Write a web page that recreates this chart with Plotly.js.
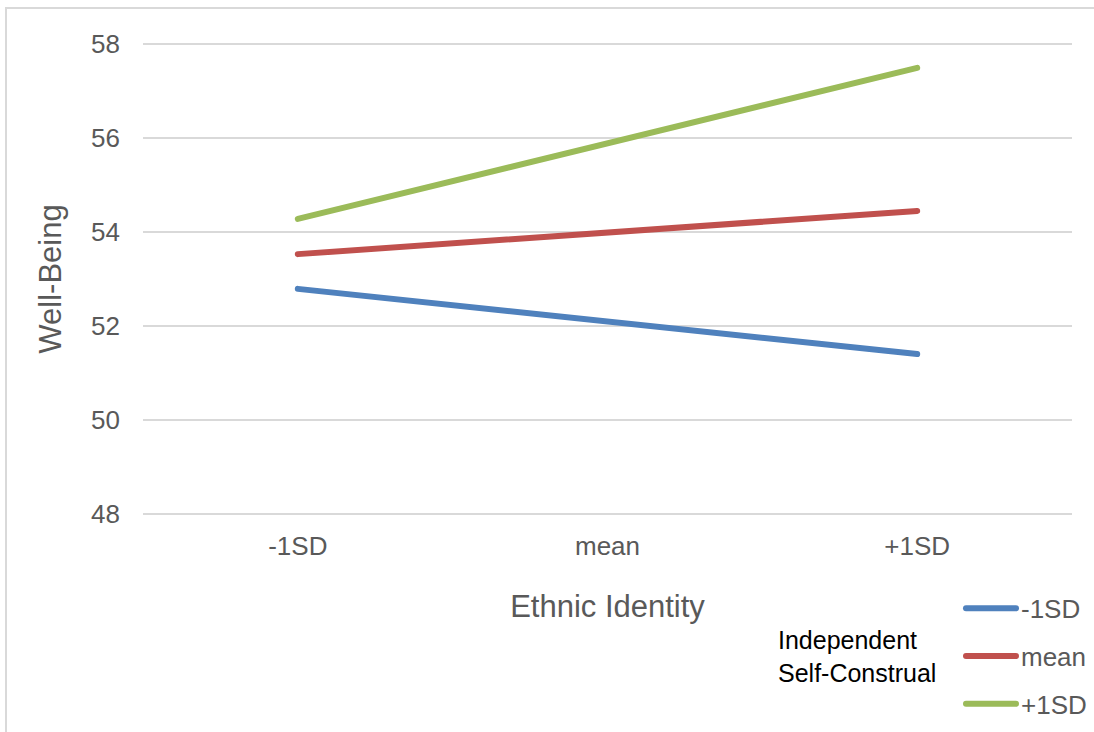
<!DOCTYPE html>
<html>
<head>
<meta charset="utf-8">
<script src="https://cdn.plot.ly/plotly-3.0.1.min.js"></script>
<style>
  html, body { margin: 0; padding: 0; background: #ffffff; }
  #wrap { position: relative; width: 1094px; height: 732px; overflow: hidden; }
  #frame { position: absolute; left: 5px; top: 7px; width: 1200px; height: 800px; border: 2px solid #d9d9d9; box-sizing: border-box; pointer-events: none; }
  #chart { position: absolute; left: 0; top: 0; width: 1094px; height: 732px; }
  .scatterlayer path.js-line, .legend path.js-line { stroke-linecap: round; stroke-linejoin: round; }
</style>
</head>
<body>
<div id="wrap">
  <div id="chart"></div>
  <div id="frame"></div>
</div>
<script>
const categories = ['-1SD', 'mean', '+1SD'];
const seriesNames = ['-1SD', 'mean', '+1SD'];
const lowSelfConstrual = [52.79, 52.10, 51.40];
const meanSelfConstrual = [53.53, 53.99, 54.45];
const highSelfConstrual = [54.28, 55.89, 57.50];
const seriesColors = ['#4F81BD', '#C0504D', '#9BBB59'];
const yTicks = [48, 50, 52, 54, 56, 58];

const seriesValues = [lowSelfConstrual, meanSelfConstrual, highSelfConstrual];
const font = 'Liberation Sans, Arial, sans-serif';

const traces = seriesValues.map((vals, i) => ({
  type: 'scatter',
  mode: 'lines',
  x: categories,
  y: vals,
  name: seriesNames[i],
  legendgroup: 'g' + i,
  line: { color: seriesColors[i], width: 6 },
  hoverinfo: 'x+y+name'
}));

const layout = {
  width: 1094,
  height: 732,
  margin: { l: 143, r: 22, t: 41.65, b: 215.65, autoexpand: false },
  paper_bgcolor: 'rgba(0,0,0,0)',
  plot_bgcolor: 'rgba(0,0,0,0)',
  font: { family: font, color: '#595959', size: 26 },
  showlegend: true,
  legend: {
    x: 0.8805, xanchor: 'left', xref: 'paper',
    y: -0.1452, yanchor: 'top', yref: 'paper',
    itemwidth: 50,
    tracegroupgap: 11,
    traceorder: 'grouped',
    font: { family: font, color: '#595959', size: 26 },
    bgcolor: 'rgba(0,0,0,0)'
  },
  xaxis: {
    type: 'category',
    range: [-0.5, 2.5],
    showgrid: false,
    zeroline: false,
    showline: false,
    ticks: '',
    ticklabelstandoff: 12,
    tickfont: { family: font, color: '#595959', size: 26 },
    title: { text: 'Ethnic Identity', font: { family: font, color: '#595959', size: 31 }, standoff: 35 }
  },
  yaxis: {
    range: [47.95, 58.05],
    tickvals: yTicks,
    ticktext: yTicks.map(String),
    showgrid: true,
    gridcolor: '#d9d9d9',
    gridwidth: 2,
    zeroline: false,
    showline: false,
    ticks: '',
    ticklabelstandoff: 22,
    tickfont: { family: font, color: '#595959', size: 26 },
    title: { text: 'Well-Being', font: { family: font, color: '#595959', size: 31 }, standoff: 20 }
  },
  annotations: [{
    text: 'Independent<br>Self-Construal',
    xref: 'paper', yref: 'paper',
    x: 0.681, y: -0.2283,
    xanchor: 'left', yanchor: 'top',
    align: 'left',
    showarrow: false,
    font: { family: font, color: '#000000', size: 25 }
  }]
};

Plotly.newPlot('chart', traces, layout, { displayModeBar: false, staticPlot: true });
</script>
</body>
</html>
